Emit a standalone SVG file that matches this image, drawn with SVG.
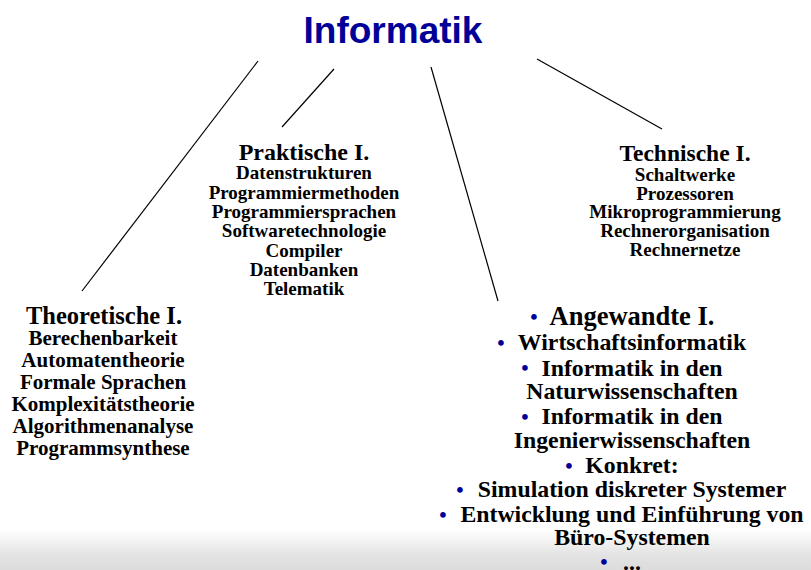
<svg xmlns="http://www.w3.org/2000/svg" width="811" height="570" viewBox="0 0 811 570">
  <defs>
    <linearGradient id="shade" x1="0" y1="0" x2="0" y2="1">
      <stop offset="0" stop-color="#ffffff"/>
      <stop offset="0.6" stop-color="#e4e4e4"/>
      <stop offset="1" stop-color="#dcdcdc"/>
    </linearGradient>
    <style>
      .t { font-family: "Liberation Serif", "Times New Roman", serif; font-weight: bold; fill: #000; text-anchor: middle; }
      .h { font-size: 24.5px; }
      .i { font-size: 21px; }
      .s { font-size: 19px; }
      .a { font-size: 23.8px; }
      .b { font-family: "Liberation Serif", serif; font-weight: bold; fill: #000099; font-size: 21px; text-anchor: middle; }
      .c { stroke: #000; stroke-width: 1.2; fill: none; }
    </style>
  </defs>
  <rect x="0" y="0" width="811" height="570" fill="#ffffff"/>
  <rect x="0" y="530" width="811" height="40" fill="url(#shade)"/>

  <g id="connectors">
    <line class="c" x1="258" y1="61" x2="82" y2="291"/>
    <line class="c" x1="334" y1="69" x2="282" y2="127"/>
    <line class="c" x1="431" y1="67" x2="498" y2="301"/>
    <line class="c" x1="537" y1="59" x2="662" y2="129"/>
  </g>

  <g id="informatik">
    <text x="393" y="43" style="font-family: 'Liberation Sans', Arial, sans-serif; font-weight: bold; font-size: 37px; fill: #000099; text-anchor: middle;">Informatik</text>
  </g>

  <g id="theoretische">
    <text class="t h" x="104" y="324">Theoretische I.</text>
    <text class="t i" x="103" y="345">Berechenbarkeit</text>
    <text class="t i" x="103" y="367">Automatentheorie</text>
    <text class="t i" x="103" y="389">Formale Sprachen</text>
    <text class="t i" x="103" y="411">Komplexitätstheorie</text>
    <text class="t i" x="103" y="433">Algorithmenanalyse</text>
    <text class="t i" x="103" y="455">Programmsynthese</text>
  </g>

  <g id="praktische">
    <text class="t h" x="304" y="160" style="font-size:24px">Praktische I.</text>
    <text class="t s" x="304" y="179">Datenstrukturen</text>
    <text class="t s" x="304" y="199">Programmiermethoden</text>
    <text class="t s" x="304" y="218">Programmiersprachen</text>
    <text class="t s" x="304" y="237">Softwaretechnologie</text>
    <text class="t s" x="304" y="257">Compiler</text>
    <text class="t s" x="304" y="276">Datenbanken</text>
    <text class="t s" x="304" y="295">Telematik</text>
  </g>

  <g id="technische">
    <text class="t h" x="685" y="161" style="font-size:23.5px">Technische I.</text>
    <text class="t s" x="685" y="181">Schaltwerke</text>
    <text class="t s" x="685" y="199.5">Prozessoren</text>
    <text class="t s" x="685" y="218">Mikroprogrammierung</text>
    <text class="t s" x="685" y="237">Rechnerorganisation</text>
    <text class="t s" x="685" y="255.5">Rechnernetze</text>
  </g>

  <g id="angewandte">
    <text class="b" x="534" y="324">•</text>
    <text class="t" x="632" y="325" style="font-size:26.5px">Angewandte I.</text>
    <text class="b" x="501" y="350">•</text>
    <text class="t a" x="632" y="350">Wirtschaftsinformatik</text>
    <text class="b" x="525" y="375">•</text>
    <text class="t a" x="632" y="376">Informatik in den</text>
    <text class="t a" x="632" y="399">Naturwissenschaften</text>
    <text class="b" x="525" y="424">•</text>
    <text class="t a" x="632" y="424">Informatik in den</text>
    <text class="t a" x="632" y="448">Ingenierwissenschaften</text>
    <text class="b" x="569" y="473">•</text>
    <text class="t a" x="632" y="473">Konkret:</text>
    <text class="b" x="460" y="497">•</text>
    <text class="t a" x="632" y="497">Simulation diskreter Systemer</text>
    <text class="b" x="443" y="522">•</text>
    <text class="t a" x="632" y="522">Entwicklung und Einführung von</text>
    <text class="t a" x="632" y="545">Büro-Systemen</text>
    <text class="b" x="604" y="569">•</text>
    <text class="t a" x="632" y="570">...</text>
  </g>
</svg>
